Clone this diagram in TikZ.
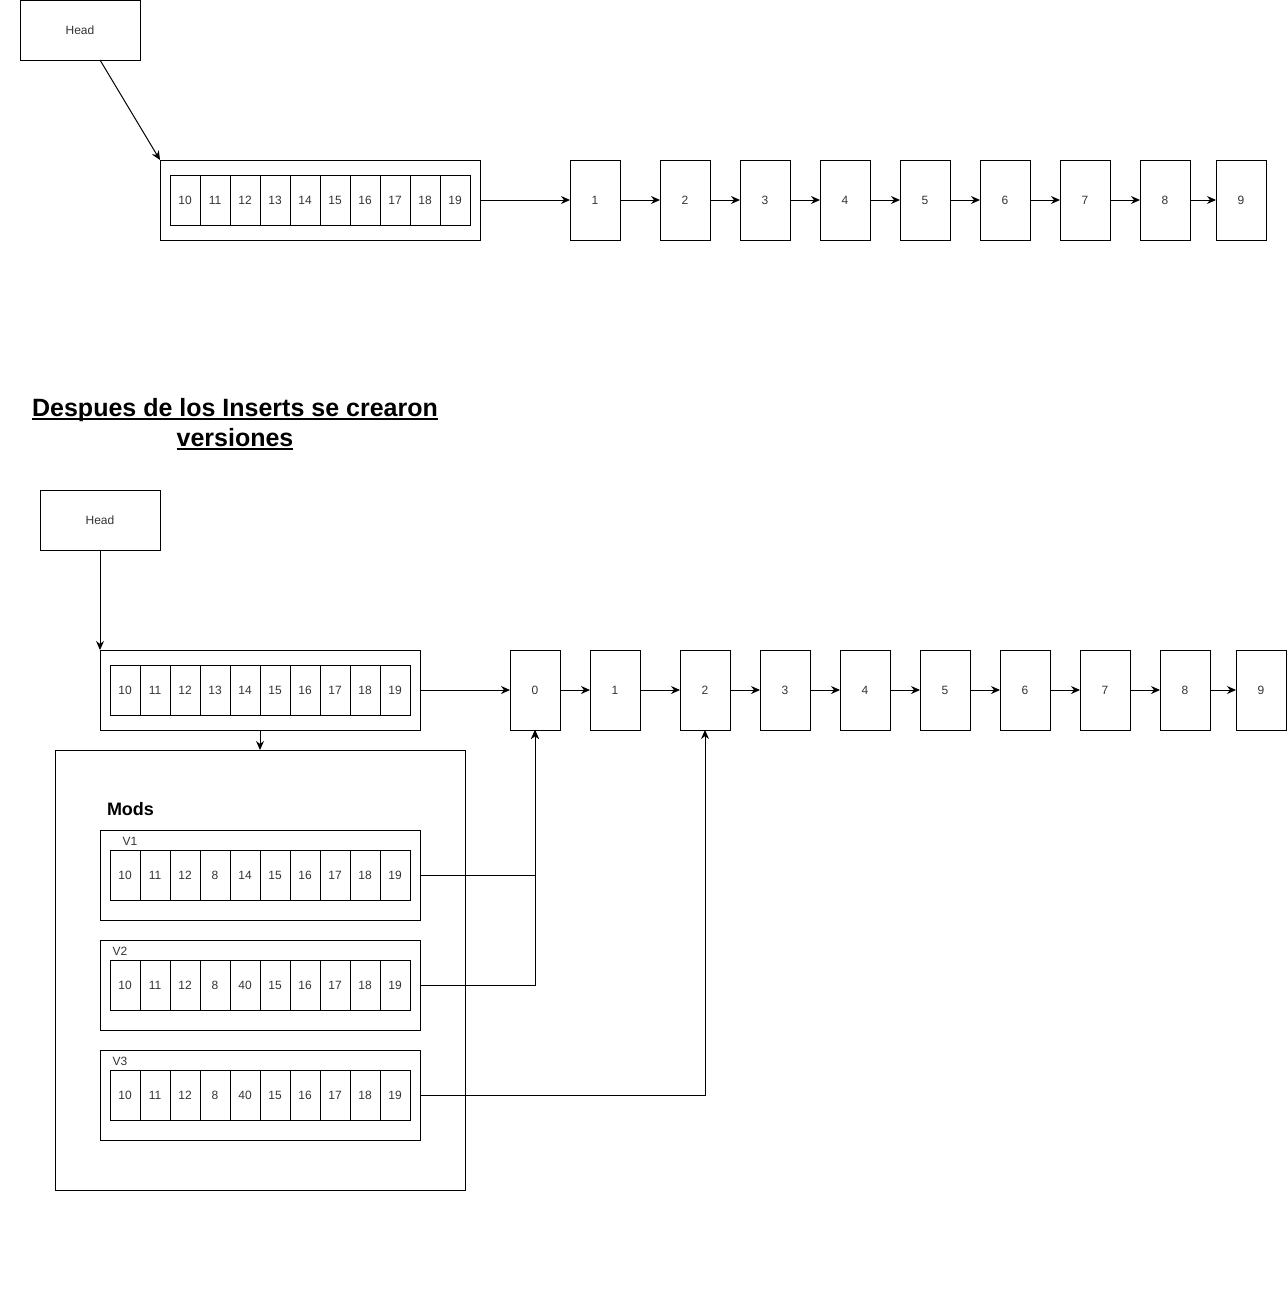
\documentclass[tikz,border=0pt]{standalone}
\usepackage{fontspec}
\setmainfont{Liberation Sans}
\usetikzlibrary{arrows.meta}
\definecolor{txt}{HTML}{333333}
\newcommand{\myul}[1]{\setbox0\hbox{#1}\rlap{\rule[-4pt]{\wd0}{1.8pt}}\box0}
\begin{document}
\begin{tikzpicture}[x=1pt,y=-1pt,
  every node/.style={inner sep=0pt, outer sep=0pt},
  box/.style={draw, line width=1pt, font=\fontsize{12}{14}\selectfont, text=txt},
  cell/.style={box, minimum width=30pt, minimum height=50pt},
  lnode/.style={box, minimum width=50pt, minimum height=80pt},
  frame/.style={box, minimum width=320pt},
  vlabel/.style={font=\fontsize{12}{14}\selectfont, text=txt},
  arr/.style={line width=1pt, -{Stealth[length=9pt,width=8pt]}},
  link/.style={line width=1pt}]
\useasboundingbox (0,0) rectangle (1287,1311);

% ---------- top part ----------
\node[box, minimum width=120pt, minimum height=60pt] (headA) at (80,30.5) {Head};
\coordinate (headAout) at (100,60);
\node[frame, minimum height=80pt] (arrA) at (320,200) {};
\foreach \v [count=\i from 0] in {10,11,12,13,14,15,16,17,18,19}
  \node[cell] (a\i) at (185+30*\i,200) {\v};
\draw[arr] (headAout) -- (arrA.north west);

\foreach \n/\x in {1/595,2/685,3/765,4/845,5/925,6/1005,7/1085,8/1165,9/1241}
  \node[lnode] (n\n) at (\x,200) {\n};
\draw[arr] (arrA.east) -- (n1.west);
\foreach \p/\q in {1/2,2/3,3/4,4/5,5/6,6/7,7/8,8/9}
  \draw[arr] (n\p.east) -- (n\q.west);

% ---------- title ----------
\node[align=center, font=\fontsize{25}{30}\selectfont\bfseries] (title) at (235,424)
  {\myul{Despues de los Inserts se crearon}\\\myul{versiones}};

% ---------- bottom part ----------
\node[box, minimum width=120pt, minimum height=60pt] (headB) at (100,520) {Head};
\node[frame, minimum height=80pt] (arrB) at (260,690) {};
\foreach \v [count=\i from 0] in {10,11,12,13,14,15,16,17,18,19}
  \node[cell] (b\i) at (125+30*\i,690) {\v};
\draw[arr] (headB.south) -- (arrB.north west);

\foreach \n/\x in {0/535,1/615,2/705,3/785,4/865,5/945,6/1025,7/1105,8/1185,9/1261}
  \node[lnode] (m\n) at (\x,690) {\n};
\draw[arr] (arrB.east) -- (m0.west);
\foreach \p/\q in {0/1,1/2,2/3,3/4,4/5,5/6,6/7,7/8,8/9}
  \draw[arr] (m\p.east) -- (m\q.west);

% mods container
\node[draw, line width=1pt, minimum width=410pt, minimum height=440pt] (mods) at (260,970) {};
\draw[arr] (arrB.south) -- (mods.north);
\node[anchor=west, font=\fontsize{18}{21}\selectfont\bfseries] (modslabel) at (107,809.5) {Mods};

% V1
\node[frame, minimum height=90pt] (v1) at (260,875) {};
\node[vlabel] (v1l) at (130,841) {V1};
\foreach \v [count=\i from 0] in {10,11,12,8,14,15,16,17,18,19}
  \node[cell] (c\i) at (125+30*\i,875) {\v};
% V2
\node[frame, minimum height=90pt] (v2) at (260,985) {};
\node[vlabel] (v2l) at (120,951) {V2};
\foreach \v [count=\i from 0] in {10,11,12,8,40,15,16,17,18,19}
  \node[cell] (d\i) at (125+30*\i,985) {\v};
% V3
\node[frame, minimum height=90pt] (v3) at (260,1095) {};
\node[vlabel] (v3l) at (120,1061) {V3};
\foreach \v [count=\i from 0] in {10,11,12,8,40,15,16,17,18,19}
  \node[cell] (e\i) at (125+30*\i,1095) {\v};

\draw[arr] (v1.east) -| (m0.south);
\draw[arr] (v2.east) -| (m0.south);
\draw[arr] (v3.east) -| (m2.south);
\end{tikzpicture}
\end{document}
